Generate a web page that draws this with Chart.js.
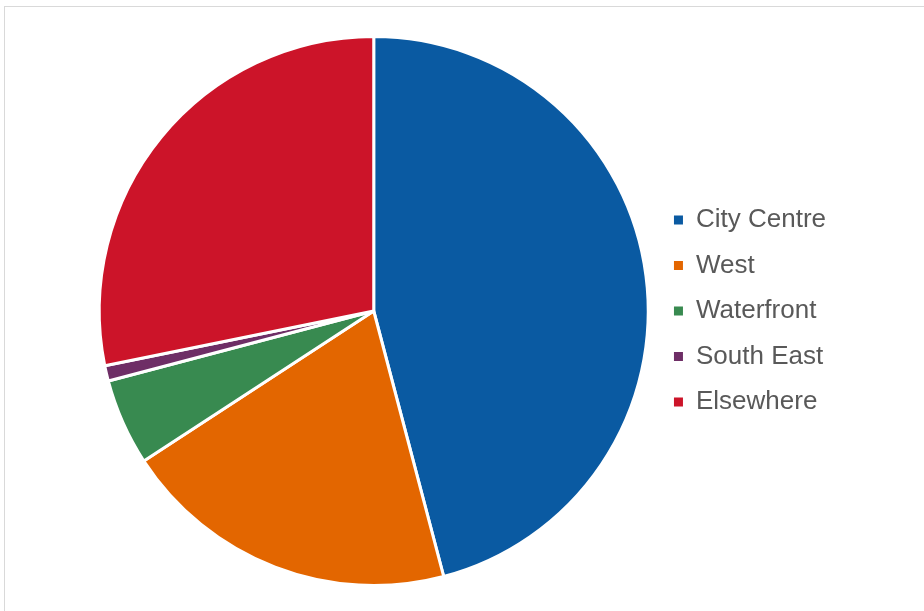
<!DOCTYPE html>
<html>
<head>
<meta charset="utf-8">
<script src="https://cdn.jsdelivr.net/npm/chart.js@4"></script>
<style>
  html, body { margin: 0; padding: 0; background: #fff; }
  body { width: 924px; height: 611px; overflow: hidden; position: relative; }
  #frame { position: absolute; left: 4px; top: 6px; width: 940px; height: 640px;
           border-left: 1px solid #d9d9d9; border-top: 1px solid #d9d9d9; }
  #wrap { position: absolute; left: 0; top: 0; width: 924px; height: 611px; }
</style>
</head>
<body>
<div id="frame"></div>
<div id="wrap"><canvas id="pie"></canvas></div>
<script>
const areas = ['City Centre', 'West', 'Waterfront', 'South East', 'Elsewhere'];
const shares = [45.9, 19.9, 5.1, 0.9, 28.2];
const colours = ['#0a5aa2', '#e36600', '#388a50', '#6e2e66', '#cc1429'];

new Chart(document.getElementById('pie'), {
    type: 'pie',
    data: {
        labels: areas,
        datasets: [{
            data: shares,
            backgroundColor: colours,
            borderColor: '#ffffff',
            borderWidth: 3,
        }]
    },
    options: {
        responsive: true,
        maintainAspectRatio: false,
        animation: false,
        layout: { padding: { top: 35, bottom: 24, left: 93, right: 88 } },
        plugins: {
            tooltip: { enabled: false },
            legend: {
                position: 'right',
                labels: {
                    boxWidth: 9,
                    boxHeight: 9,
                    padding: 19.5,
                    color: '#595959',
                    font: { family: "'Liberation Sans', Arial, sans-serif", size: 26 },
                    generateLabels: chart => {
                        const items = Chart.overrides.pie.plugins.legend.labels.generateLabels(chart);
                        // plain filled squares, no white border
                        items.forEach(it => { it.lineWidth = 0; });
                        return items;
                    },
                },
            },
        },
    },
});
</script>
</body>
</html>
